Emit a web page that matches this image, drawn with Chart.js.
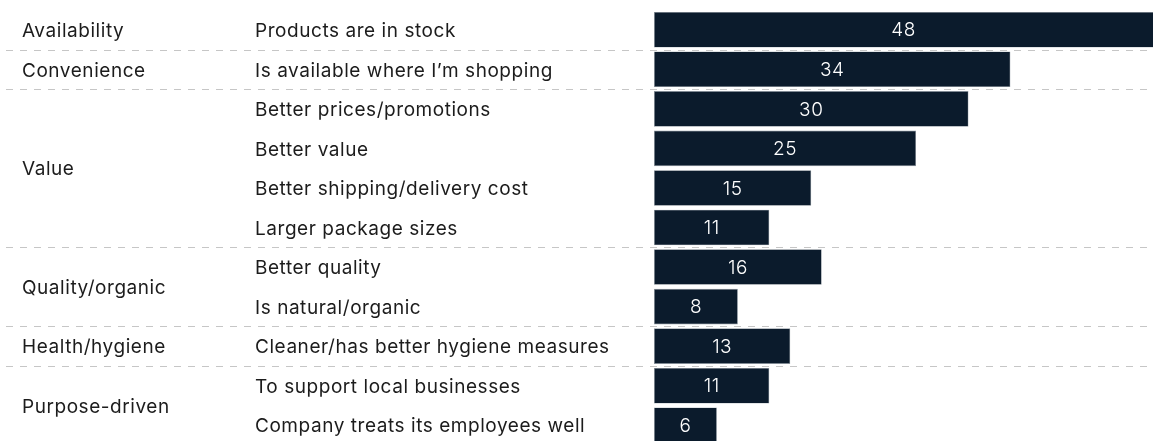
<!DOCTYPE html>
<html>
<head>
<meta charset="utf-8">
<script src="https://cdn.jsdelivr.net/npm/chart.js@4.4.1/dist/chart.umd.min.js"></script>
<style>
  html, body { margin: 0; padding: 0; background: #fff; overflow: hidden; }
  #wrap { position: relative; width: 1153px; height: 445px; }
</style>
</head>
<body>
<div id="wrap"><canvas id="reasons"></canvas></div>
<script>
// reasons, grouped by driver
var groups = ['Availability', 'Convenience', 'Value', 'Quality/organic', 'Health/hygiene', 'Purpose-driven'];
var groupSizes = [1, 1, 4, 2, 1, 2];
var reasons = [
  'Products are in stock',
  'Is available where I\u2019m shopping',
  'Better prices/promotions',
  'Better value',
  'Better shipping/delivery cost',
  'Larger package sizes',
  'Better quality',
  'Is natural/organic',
  'Cleaner/has better hygiene measures',
  'To support local businesses',
  'Company treats its employees well'
];
var shares = [48, 34, 30, 25, 15, 11, 16, 8, 13, 11, 6];

const barColor = '#0b1b2c';
const textColor = '#1c1c1c';
const labelFont = '400 19px Inter, "Liberation Sans", sans-serif';
const valueFont = '300 19px Inter, "Liberation Sans", sans-serif';

// dashed separators between groups + the two text columns
const sideLabels = {
  id: 'sideLabels',
  beforeDatasetsDraw(chart) {
    const ctx = chart.ctx;
    const y = chart.scales.y;
    ctx.save();
    ctx.strokeStyle = '#c6c6c6';
    ctx.lineWidth = 1;
    ctx.setLineDash([7, 7]);
    var idx = 0;
    groupSizes.forEach((n, g) => {
      idx += n;
      if (g === groupSizes.length - 1) return;
      const yy = Math.round((y.getPixelForValue(idx - 1) + y.getPixelForValue(idx)) / 2) + 0.5;
      ctx.beginPath();
      ctx.moveTo(6, yy);
      ctx.lineTo(chart.width, yy);
      ctx.stroke();
    });
    ctx.restore();
  },
  afterDatasetsDraw(chart) {
    const ctx = chart.ctx;
    const y = chart.scales.y;
    ctx.save();
    ctx.fillStyle = textColor;
    ctx.font = labelFont;
    ctx.letterSpacing = '0.55px';
    ctx.textBaseline = 'middle';
    ctx.textAlign = 'left';
    reasons.forEach((r, i) => {
      ctx.fillText(r, 255, y.getPixelForValue(i) + 1.5);
    });
    var start = 0;
    groups.forEach((g, k) => {
      const end = start + groupSizes[k] - 1;
      const mid = (y.getPixelForValue(start) + y.getPixelForValue(end)) / 2;
      ctx.fillText(g, 22, mid + 1.5);
      start = end + 1;
    });

    // values inside the bars
    const meta = chart.getDatasetMeta(0);
    ctx.fillStyle = '#ffffff';
    ctx.font = valueFont;
    ctx.letterSpacing = '0.5px';
    ctx.textAlign = 'center';
    meta.data.forEach((bar, i) => {
      const left = bar.base;
      const right = Math.min(bar.x, chart.width);
      ctx.fillText(String(shares[i]), (left + right) / 2, bar.y + 1);
    });
    ctx.restore();
  }
};

new Chart('reasons', {
  type: 'bar',
  data: {
    labels: reasons,
    datasets: [{
      data: shares,
      backgroundColor: barColor,
      borderColor: '#8c969e',
      borderWidth: 0.6,
      borderSkipped: false,
      barPercentage: 0.9,
      categoryPercentage: 1
    }]
  },
  options: {
    indexAxis: 'y',
    responsive: true,
    maintainAspectRatio: false,
    animation: false,
    layout: { padding: { left: 654, top: 10, right: 0, bottom: 0 } },
    scales: {
      x: { display: false, min: 0, max: 47.6 },
      y: { display: false }
    },
    plugins: {
      legend: { display: false },
      tooltip: { enabled: false }
    }
  },
  plugins: [sideLabels]
});
</script>
</body>
</html>
